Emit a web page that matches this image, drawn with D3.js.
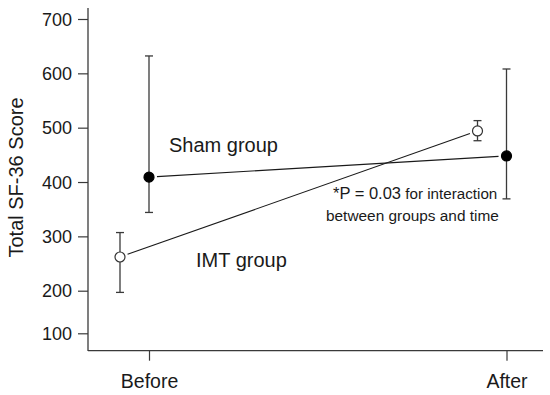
<!DOCTYPE html>
<html>
<head>
<meta charset="utf-8">
<script src="https://cdn.jsdelivr.net/npm/d3@7"></script>
<style>
html,body{margin:0;padding:0;background:#fff;}
svg{display:block;font-family:Arial,"Liberation Sans",Helvetica,sans-serif;}
</style>
</head>
<body>
<svg id="chart" width="550" height="395"></svg>
<script>
// ---- data ----
const timepoints = ["Before", "After"];
const groups = ["IMT", "Sham"];
const imtMean  = [262, 494];
const imtLower = [196, 476];
const imtUpper = [307, 513];
const shamMean  = [409, 448];
const shamLower = [344, 369];
const shamUpper = [632, 608];
const yTicks = [100, 200, 300, 400, 500, 600, 700];
const groupLabels = ["IMT group", "Sham group"];
const noteLine1a = "*P = 0.03";
const noteLine1b = " for interaction";
const noteLine2 = "between groups and time";

const series = [
  {group: "IMT", filled: false, mean: imtMean, lower: imtLower, upper: imtUpper},
  {group: "Sham", filled: true, mean: shamMean, lower: shamLower, upper: shamUpper}
];

const svg = d3.select("#chart");
const ink = "#1a1a1a";
const axisCol = "#3a3a3a";

// scales
const x = d3.scalePoint().domain(timepoints).range([149, 506.5]);
const dodge = d3.scalePoint().domain(groups).range([-29, 0]);
const y = d3.scaleLinear().domain([100, 200, 700]).range([333.3, 290.7, 19]);

// y axis
const yAxisG = svg.append("g").attr("transform", "translate(88,0)")
  .call(d3.axisLeft(y).tickValues(yTicks).tickSize(10).tickPadding(6).tickFormat(d3.format("d")));
yAxisG.select(".domain").remove();
yAxisG.append("line").attr("x1", 0).attr("x2", 0).attr("y1", 8).attr("y2", 351)
  .attr("stroke", axisCol).attr("stroke-width", 1.3);
yAxisG.selectAll(".tick line").attr("stroke", axisCol).attr("stroke-width", 1.2);
yAxisG.selectAll(".tick text").attr("fill", ink).attr("font-size", 18)
  .attr("font-family", "Arial, 'Liberation Sans', sans-serif").attr("dy", "0.34em");

// x axis
const xAxisG = svg.append("g").attr("transform", "translate(0,350.7)")
  .call(d3.axisBottom(x).tickSize(10).tickPadding(13));
xAxisG.select(".domain").remove();
xAxisG.append("line").attr("x1", 88).attr("x2", 543).attr("y1", 0).attr("y2", 0)
  .attr("stroke", axisCol).attr("stroke-width", 1.3);
xAxisG.selectAll(".tick line").attr("stroke", axisCol).attr("stroke-width", 1.2);
xAxisG.selectAll(".tick text").attr("fill", ink).attr("font-size", 19.5)
  .attr("font-family", "Arial, 'Liberation Sans', sans-serif");

// y title
svg.append("text")
  .attr("transform", "translate(23,177.5) rotate(-90)")
  .attr("text-anchor", "middle")
  .attr("font-size", 20).attr("fill", ink)
  .text("Total SF-36 Score");

const r = 5;
const gap = 8;
// connecting lines (shortened between marker edges)
series.forEach(s => {
  const x0 = x(timepoints[0]) + dodge(s.group), y0 = y(s.mean[0]);
  const x1 = x(timepoints[1]) + dodge(s.group), y1 = y(s.mean[1]);
  const len = Math.hypot(x1 - x0, y1 - y0);
  const ux = (x1 - x0) / len, uy = (y1 - y0) / len;
  svg.append("line")
    .attr("x1", x0 + ux * gap).attr("y1", y0 + uy * gap)
    .attr("x2", x1 - ux * gap).attr("y2", y1 - uy * gap)
    .attr("stroke", ink).attr("stroke-width", 1.1);
});

// error bars and markers
series.forEach(s => {
  const g = svg.append("g");
  timepoints.forEach((t, i) => {
    const cx = x(t) + dodge(s.group);
    g.append("line").attr("x1", cx).attr("x2", cx)
      .attr("y1", y(s.upper[i])).attr("y2", y(s.lower[i]))
      .attr("stroke", axisCol).attr("stroke-width", 1.3);
    [s.upper[i], s.lower[i]].forEach(v => {
      g.append("line").attr("x1", cx - 4).attr("x2", cx + 4)
        .attr("y1", y(v)).attr("y2", y(v))
        .attr("stroke", axisCol).attr("stroke-width", 1.3);
    });
    g.append("circle").attr("cx", cx).attr("cy", y(s.mean[i])).attr("r", r)
      .attr("fill", s.filled ? "#000" : "#fff")
      .attr("stroke", s.filled ? "#000" : "#333").attr("stroke-width", 1.2);
  });
});

// group labels
svg.append("text").attr("x", 169).attr("y", 151.5).attr("font-size", 20).attr("fill", ink)
  .text(groupLabels[1]);
svg.append("text").attr("x", 196).attr("y", 266.5).attr("font-size", 20).attr("fill", ink)
  .text(groupLabels[0]);

// annotation
const note = svg.append("text").attr("x", 333).attr("y", 199.3).attr("fill", ink);
note.append("tspan").attr("font-size", 16.5).text(noteLine1a);
note.append("tspan").attr("font-size", 15.2).text(noteLine1b);
svg.append("text").attr("x", 326).attr("y", 220.7).attr("font-size", 15.4).attr("fill", ink)
  .text(noteLine2);
</script>
</body>
</html>
